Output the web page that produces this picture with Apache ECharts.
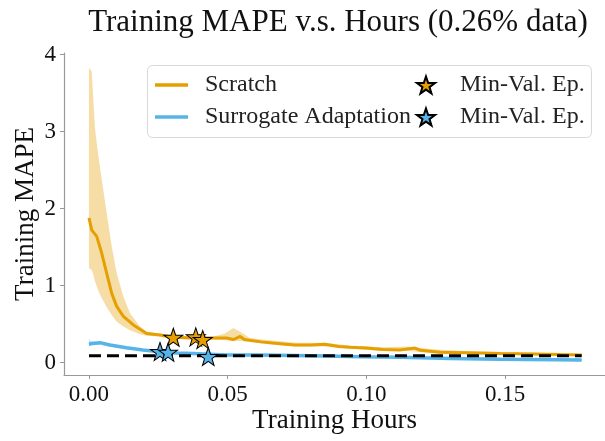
<!DOCTYPE html>
<html>
<head>
<meta charset="utf-8">
<script src="https://cdn.jsdelivr.net/npm/echarts@6/dist/echarts.min.js"></script>
<style>html,body{margin:0;padding:0;background:#fff}#c{width:605px;height:441px}</style>
</head>
<body>
<div id="c"></div>
<script>
// ---- data ----
const scratchX = [0,0.001,0.0028,0.0046,0.0064,0.0082,0.010,0.0124,0.016,0.0208,0.0256,0.0304,0.0376,0.0496,0.052,0.0545,0.056,0.062,0.068,0.074,0.080,0.085,0.090,0.094,0.100,0.106,0.112,0.1175,0.1195,0.1265,0.136,0.148,0.160,0.170,0.1776];
const scratchY = [1.88,1.72,1.64,1.42,1.16,0.90,0.73,0.60,0.49,0.38,0.36,0.33,0.32,0.32,0.30,0.34,0.30,0.27,0.25,0.23,0.23,0.24,0.21,0.20,0.19,0.17,0.165,0.19,0.16,0.135,0.13,0.12,0.113,0.105,0.10];
const scratchBandX = [0,0.001,0.0015,0.0022,0.0034,0.0046,0.0064,0.0082,0.010,0.0124,0.0148,0.0184,0.0208,0.0256,0.0304,0.0376,0.045,0.049,0.052,0.0545,0.058,0.065,0.075,0.085,0.095,0.105,0.115,0.125,0.135,0.148,0.160,0.1776];
const scratchHigh = [3.83,3.78,3.46,3.03,2.68,2.38,1.94,1.51,1.16,0.86,0.64,0.47,0.40,0.38,0.35,0.34,0.34,0.38,0.45,0.40,0.32,0.29,0.26,0.26,0.22,0.20,0.21,0.17,0.15,0.14,0.13,0.11];
const scratchLow = [1.23,1.20,1.15,1.05,0.93,0.84,0.72,0.62,0.53,0.47,0.42,0.37,0.35,0.34,0.31,0.30,0.30,0.29,0.28,0.28,0.27,0.24,0.21,0.21,0.18,0.15,0.15,0.12,0.12,0.11,0.10,0.09];

const adaptX = [0,0.0012,0.004,0.0075,0.0135,0.0195,0.0256,0.0316,0.0376,0.0436,0.0496,0.0616,0.0857,0.0977,0.1121,0.130,0.1482,0.1776];
const adaptY = [0.24,0.25,0.26,0.23,0.195,0.165,0.143,0.125,0.12,0.11,0.10,0.10,0.087,0.078,0.07,0.055,0.044,0.035];
const adaptBandX = [0,0.0005,0.002,0.006,0.012,0.02,0.03,0.05,0.08,0.11,0.15,0.1776];
const adaptHigh = [0.32,0.28,0.275,0.25,0.215,0.175,0.14,0.11,0.095,0.08,0.055,0.045];
const adaptLow = [0.21,0.22,0.24,0.22,0.185,0.15,0.115,0.092,0.078,0.062,0.036,0.027];

const baselineX = [0, 0.1776];
const baselineY = [0.09, 0.09];

const scratchStarX = [0.0304, 0.0385, 0.041];
const scratchStarY = [0.33, 0.335, 0.30];
const adaptStarX = [0.0256, 0.0285, 0.043];
const adaptStarY = [0.145, 0.135, 0.08];

const xTicks = [0, 0.05, 0.10, 0.15];
const yTicks = [0, 1, 2, 3, 4];

const seriesNames = ['Scratch', 'Surrogate Adaptation'];
const starLabel = 'Min-Val. Ep.';
const titleText = 'Training MAPE v.s. Hours (0.26% data)';
const xName = 'Training Hours';
const yName = 'Training MAPE';

// ---- styling ----
const ORANGE = '#E69F00';
const BLUE = '#56B4E9';
const FONT = '"Liberation Serif", "DejaVu Serif", serif';
const STAR = 'path://M50,0 L61.8,35.1 L98.1,35.1 L68.8,56.7 L79.4,91.0 L50,70.1 L20.6,91.0 L31.2,56.7 L1.9,35.1 L38.2,35.1 Z';

const zip = (xs, ys) => xs.map((x, i) => [x, ys[i]]);

function bandSeries(xs, lo, hi, fill) {
  return {
    type: 'custom',
    silent: true,
    z: 1,
    data: xs.map((x, i) => [x, lo[i], hi[i]]),
    renderItem: function (params, api) {
      if (params.dataIndex !== 0) return null;
      const top = xs.map((x, i) => api.coord([x, hi[i]]));
      const bot = xs.map((x, i) => api.coord([x, lo[i]])).reverse();
      return { type: 'polygon', shape: { points: top.concat(bot) }, style: { fill: fill } };
    }
  };
}

const chart = echarts.init(document.getElementById('c'), null, { renderer: 'canvas' });
const axisColor = '#999';
chart.setOption({
  animation: false,
  backgroundColor: '#fff',
  textStyle: { fontFamily: FONT },
  title: {
    text: titleText, left: 333, top: 2, textAlign: 'center',
    textStyle: { fontFamily: FONT, fontSize: 31, fontWeight: 'normal', color: '#111' }
  },
  grid: { left: 64, right: 0, top: 53, bottom: 66, containLabel: false },
  xAxis: {
    type: 'value', min: -0.009, max: 0.186,
    name: xName, nameLocation: 'middle', nameGap: 32, nameMoveOverlap: false,
    nameTextStyle: { fontFamily: FONT, fontSize: 27, color: '#111' },
    axisLine: { show: true, onZero: false, lineStyle: { color: axisColor, width: 1.2 } },
    axisTick: { show: true, length: 4, customValues: xTicks, lineStyle: { color: axisColor } },
    axisLabel: { customValues: xTicks, margin: 8, fontFamily: FONT, fontSize: 23, color: '#111',
      formatter: v => v.toFixed(2) },
    splitLine: { show: false }
  },
  yAxis: {
    type: 'value', min: -0.16, max: 4.02,
    name: yName, nameLocation: 'middle', nameGap: 25, nameRotate: 90, nameMoveOverlap: false,
    nameTextStyle: { fontFamily: FONT, fontSize: 27, color: '#111' },
    axisLine: { show: true, onZero: false, lineStyle: { color: axisColor, width: 1.2 } },
    axisTick: { show: true, length: 4, customValues: yTicks, lineStyle: { color: axisColor } },
    axisLabel: { customValues: yTicks, margin: 8, fontFamily: FONT, fontSize: 23, color: '#111',
      formatter: v => String(v) },
    splitLine: { show: false }
  },
  graphic: [{
    type: 'rect', z: 3,
    shape: { x: 147.5, y: 65.5, width: 444, height: 72, r: 5 },
    style: { fill: 'rgba(255,255,255,0.85)', stroke: '#d8d8d8', lineWidth: 1 }
  }],
  legend: [{
    z: 5, left: 150, top: 68, orient: 'vertical', selectedMode: false,
    itemWidth: 33, itemHeight: 3.5, itemGap: 8,
    data: seriesNames.map(n => ({ name: n, icon: 'rect' })),
    textStyle: { fontFamily: FONT, fontSize: 24, color: '#222', lineHeight: 24, padding: [0, 0, 0, 12] }
  }, {
    z: 5, left: 411, top: 68, orient: 'vertical', selectedMode: false,
    itemWidth: 18, itemHeight: 17, itemGap: 8,
    data: ['starS', 'starA'],
    formatter: () => starLabel,
    textStyle: { fontFamily: FONT, fontSize: 24, color: '#222', lineHeight: 24, padding: [0, 0, 0, 20] }
  }],
  series: [
    bandSeries(scratchBandX, scratchLow, scratchHigh, 'rgba(230,159,0,0.35)'),
    bandSeries(adaptBandX, adaptLow, adaptHigh, 'rgba(86,180,233,0.35)'),
    {
      name: seriesNames[0], type: 'line', data: zip(scratchX, scratchY), symbol: 'none', z: 3,
      lineStyle: { color: ORANGE, width: 3 }, itemStyle: { color: ORANGE }
    },
    {
      name: seriesNames[1], type: 'line', data: zip(adaptX, adaptY), symbol: 'none', z: 3,
      lineStyle: { color: BLUE, width: 3.5 }, itemStyle: { color: BLUE }
    },
    {
      name: 'baseline', type: 'line', data: zip(baselineX, baselineY), symbol: 'none', z: 4,
      lineStyle: { color: '#000', width: 3, type: [12, 6] }
    },
    {
      name: 'starS', type: 'scatter', data: zip(scratchStarX, scratchStarY), z: 6,
      symbol: STAR, symbolSize: [19, 18],
      itemStyle: { color: ORANGE, borderColor: '#000', borderWidth: 1, opacity: 1 }
    },
    {
      name: 'starA', type: 'scatter', data: zip(adaptStarX, adaptStarY), z: 6,
      symbol: STAR, symbolSize: [19, 18],
      itemStyle: { color: BLUE, borderColor: '#000', borderWidth: 1, opacity: 1 }
    }
  ]
});
</script>
</body>
</html>
